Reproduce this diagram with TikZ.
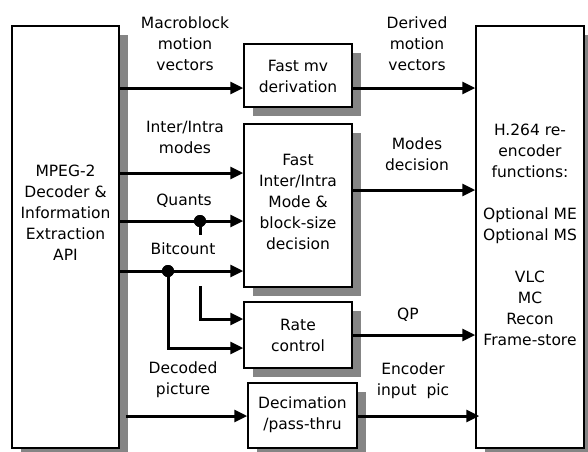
\documentclass[tikz,border=0pt]{standalone}
\usepackage{fontspec}
\setmainfont{DejaVu Sans}
\usetikzlibrary{arrows.meta,shadows,calc}
\tikzset{
  blk/.style={draw=black, line width=1.5pt, fill=white, inner sep=0pt,
    drop shadow={shadow xshift=9pt, shadow yshift=-9pt, fill=black!48, opacity=1}},
  txt/.style={align=center, inner sep=0pt, font=\fontsize{15.5}{21}\selectfont},
  conn/.style={line width=3pt, -{Triangle[length=13pt,width=12pt]}},
  plain/.style={line width=3pt},
  dot/.style={circle, fill=black, inner sep=0pt, minimum size=12pt}
}
\begin{document}
\begin{tikzpicture}[x=1pt,y=-1pt]
\useasboundingbox (0,0) rectangle (588,451);
\clip (0,0) rectangle (588,451);
% boxes
\node[blk, minimum width=107pt, minimum height=422pt] (src) at (65.5,237) {};
\node[txt] (srct) at (65.5,213) {MPEG-2\\Decoder \&\\Information\\Extraction\\API};
\node[blk, minimum width=108pt, minimum height=63pt] (mv) at (298,75.5) {};
\node[txt] (mvt) at (298,76.5) {Fast mv\\derivation};
\node[blk, minimum width=108pt, minimum height=163pt] (fii) at (298,205.5) {};
\node[txt] (fiit) at (298,201.5) {Fast\\Inter/Intra\\Mode \&\\block-size\\decision};
\node[blk, minimum width=108pt, minimum height=66pt] (rate) at (298,335) {};
\node[txt] (ratet) at (298,335) {Rate\\control};
\node[blk, minimum width=109pt, minimum height=65pt] (dec) at (302.5,415.5) {};
\node[txt] (dect) at (302.5,415) {Decimation\\/pass-thru};
\node[blk, minimum width=108pt, minimum height=422pt] (enc) at (530,237) {};
\node[txt] (enct) at (530,235) {H.264 re-\\encoder\\functions:\\[21pt]Optional ME\\Optional MS\\[21pt]VLC\\MC\\Recon\\Frame-store};
% labels
\node[txt] (l1) at (185,43.7) {Macroblock\\motion\\vectors};
\node[txt] (l2) at (185,137) {Inter/Intra\\modes};
\node[txt] (l3) at (184,201) {Quants};
\node[txt] (l4) at (183,249) {Bitcount};
\node[txt] (l5) at (183,379.5) {Decoded\\picture};
\node[txt] (l6) at (417,43.7) {Derived\\motion\\vectors};
\node[txt] (l7) at (417,154) {Modes\\decision};
\node[txt] (l8) at (408,315) {QP};
\node[txt] (l9) at (413,380.5) {Encoder\\input~~pic};
% levels
\coordinate (ya) at (0,88);
\coordinate (yb) at (0,173);
\coordinate (yc) at (0,221);
\coordinate (yd) at (0,271);
\coordinate (ye) at (0,190);
\coordinate (yf) at (0,319);
\coordinate (yg) at (0,348);
\coordinate (yh) at (0,335);
\coordinate (yi) at (0,416);
\node[dot] (dq) at (200,221) {};
\node[dot] (db) at (168,271) {};
\coordinate (qs) at (200,235);
\coordinate (qt) at (200,286);
% connectors
\draw[conn] (src.east |- ya) -- (mv.west |- ya);
\draw[conn] (mv.east |- ya) -- (enc.west |- ya);
\draw[conn] (src.east |- yb) -- (fii.west |- yb);
\draw[conn] (src.east |- yc) -- (fii.west |- yc);
\draw[plain] (dq.center) -- (qs);
\draw[conn] (qt) -- (qt |- yf) -- (rate.west |- yf);
\draw[conn] (src.east |- yd) -- (fii.west |- yd);
\draw[conn] (db.center) -- (db |- yg) -- (rate.west |- yg);
\draw[conn] (fii.east |- ye) -- (enc.west |- ye);
\draw[conn] (rate.east |- yh) -- (enc.west |- yh);
\draw[conn] ([xshift=6pt]src.east |- yi) -- (dec.west |- yi);
\draw[conn] (dec.east |- yi) -- ([xshift=4pt]enc.west |- yi);
\node[dot] at (dq) {};
\node[dot] at (db) {};
\end{tikzpicture}
\end{document}
